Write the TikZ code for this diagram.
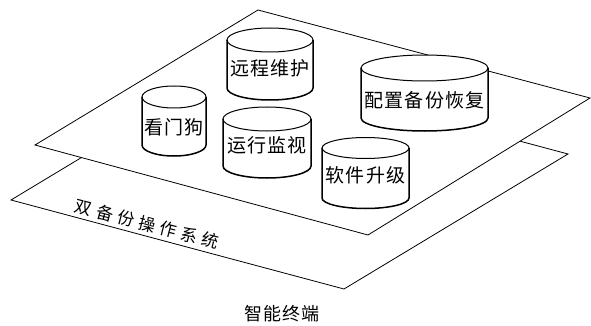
\documentclass[tikz,border=0pt]{standalone}
\usepackage{fontspec}
\newfontfamily\cjk[LetterSpace=6]{Noto Sans CJK SC}
\newfontfamily\cjkwide[LetterSpace=28]{Noto Sans CJK SC}
\newcommand\drawcyl[8]{%
  \begin{scope}[shift={(#2,0)}]
    \fill[white] (-#5,-#3) -- (-#5,-#4) arc[start angle=180,end angle=360,x radius=#5,y radius=#6] -- (#5,-#3) arc[start angle=0,end angle=180,x radius=#5,y radius=#6] -- cycle;
    \draw[cylside] (-#5,-#3) -- (-#5,-#4) arc[start angle=180,end angle=360,x radius=#5,y radius=#6] -- (#5,-#3);
    \draw[cyltop] (0,-#3) ellipse[x radius=#5,y radius=#6];
    \node[cyltext] (#1) at (0,-#8) {#7};
  \end{scope}}
\begin{document}
\begin{tikzpicture}[x=1pt,y=1pt,
  plane/.style={draw=black,fill=white,line width=0.8pt,line join=miter},
  cylside/.style={draw=black,line width=1.5pt},
  cyltop/.style={draw=black,line width=1pt},
  cyltext/.style={inner sep=0pt,font=\cjk\fontsize{19}{19}\selectfont},
  label/.style={inner sep=0pt,font=\cjk\fontsize{18}{18}\selectfont},
  oslabel/.style={inner sep=0pt,font=\cjkwide\fontsize{17}{17}\selectfont}]
\useasboundingbox (0,0) rectangle (591,-326);
% lower plane
\coordinate (lA) at (11,-200);
\coordinate (lB) at (235,-65);
\coordinate (lC) at (568,-154);
\coordinate (lD) at (344,-289);
\draw[plane] (lA) -- (lB) -- (lC) -- (lD) -- cycle;
% upper plane
\coordinate (uA) at (35,-145);
\coordinate (uB) at (258,-10);
\coordinate (uC) at (590,-98);
\coordinate (uD) at (368,-235);
\draw[plane] (uA) -- (uB) -- (uC) -- (uD) -- cycle;
% cylinders
\drawcyl{c1}{270}{40}{88}{43}{12}{远程维护}{68}
\drawcyl{c4}{424.5}{68}{118}{63.5}{13}{配置备份恢复}{100}
\drawcyl{c2}{174}{97}{145}{32}{11}{看门狗}{127}
\drawcyl{c3}{267}{119}{166}{44}{12}{运行监视}{145}
\drawcyl{c5}{365.5}{148}{198}{43.5}{10.5}{软件升级}{175}
% labels
\node[oslabel,rotate=-14.5] (os) at (147,-224) {双备份操作系统};
\node[label] (term) at (282,-314) {智能终端};
\end{tikzpicture}
\end{document}
